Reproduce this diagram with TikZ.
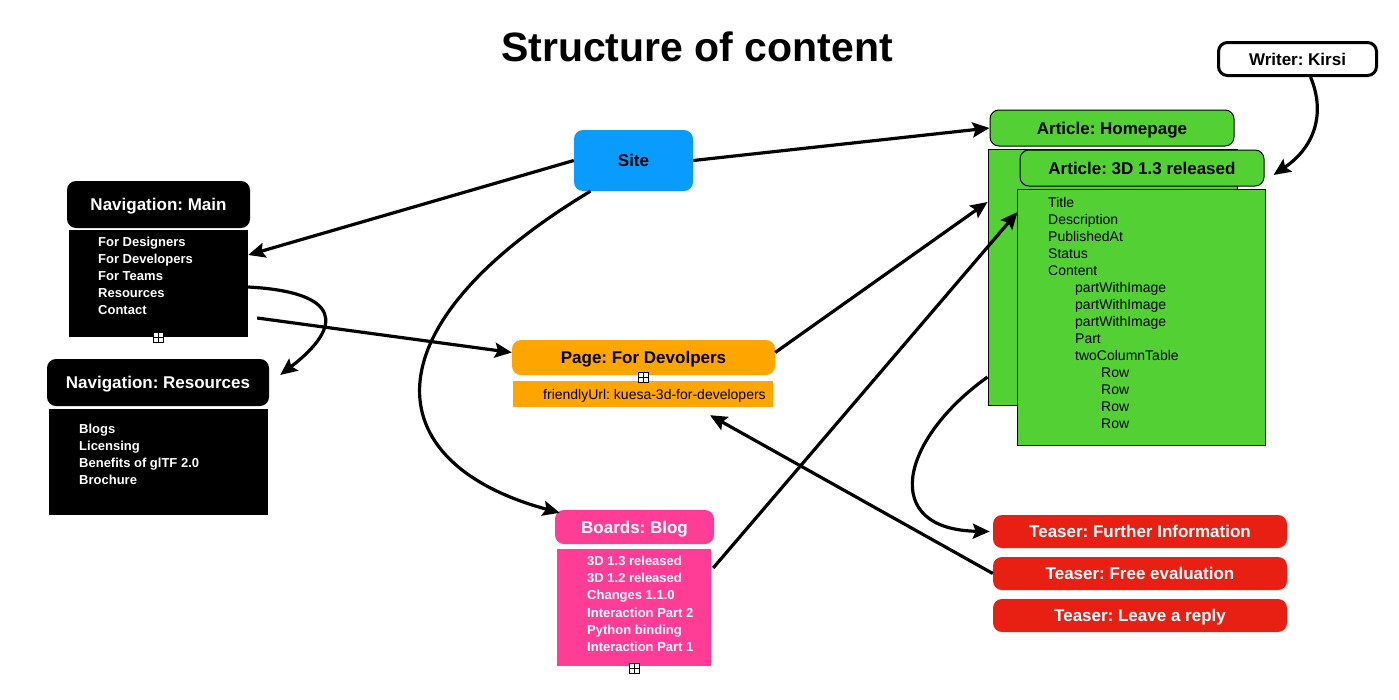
\documentclass[tikz,border=0pt]{standalone}
\usepackage{fontspec}
\setmainfont{Liberation Sans}
\usetikzlibrary{arrows.meta}
\definecolor{siteblue}{RGB}{10,155,255}
\definecolor{pageorange}{RGB}{255,165,0}
\definecolor{boardpink}{RGB}{255,60,150}
\definecolor{articlegreen}{RGB}{83,209,52}
\definecolor{teaserred}{RGB}{232,32,20}
\frenchspacing

\begin{document}
\begin{tikzpicture}[x = 1pt, y = -1pt,
    head/.style = {rounded corners = 9pt, inner sep = 0pt, text height = 12pt, text depth = 0pt,
        font = \bfseries\fontsize{17}{20}\selectfont},
    listbox/.style = {inner sep = 0pt},
    items/.style = {anchor = base west, align = left, inner sep = 0pt},
    whiteitems/.style = {items, text = white, font = \bfseries\fontsize{13}{17}\selectfont},
    darkitems/.style = {items, font = \fontsize{14}{17}\selectfont},
    plus/.style = {draw, fill = white, inner sep = 0pt, minimum size = 10pt, line width = 0.8pt,
        path picture = {\draw[line width = 0.8pt] (path picture bounding box.north) -- (path picture bounding box.south)
            (path picture bounding box.west) -- (path picture bounding box.east);}},
    conn/.style = {line width = 3.2pt, -{Stealth[length = 17pt, width = 15pt, inset = 3pt]}}]
    \useasboundingbox (0,0) rectangle (1399,699);

    \node[font = \bfseries\fontsize{41}{49}\selectfont] (title) at (697,47) {Structure of content};

    \node[head, fill = siteblue, minimum width = 119pt, minimum height = 61pt] (site) at (633.5,160.5) {Site};

    \node[head, fill = black, text = white, minimum width = 183pt, minimum height = 47pt] (navmain) at (158.5,204.5) {Navigation: Main};
    \node[listbox, fill = black, minimum width = 179pt, minimum height = 107pt] (mainlist) at (158.5,283.5) {};
    \node[whiteitems] (mainitems) at (98,314.5) {For Designers\\For Developers\\For Teams\\Resources\\Contact};
    \node[plus] (mainplus) at (158,337) {};

    \node[head, fill = black, text = white, minimum width = 222pt, minimum height = 47pt] (navres) at (158,382.5) {Navigation: Resources};
    \node[listbox, fill = black, minimum width = 219pt, minimum height = 106pt] (reslist) at (158.5,462) {};
    \node[whiteitems] (resitems) at (79,484.5) {Blogs\\Licensing\\Benefits of glTF 2.0\\Brochure};

    \node[head, fill = pageorange, minimum width = 263pt, minimum height = 35pt] (page) at (643.5,357.5) {Page: For Devolpers};
    \node[listbox, fill = pageorange, minimum width = 260pt, minimum height = 26pt] (pagelist) at (643,394) {};
    \node[darkitems] (pageitems) at (543,399.5) {friendlyUrl: kuesa-3d-for-developers};
    \node[plus] (pageplus) at (643,377) {};

    \node[head, fill = boardpink, text = white, minimum width = 159pt, minimum height = 34pt] (blog) at (634.5,527) {Boards: Blog};
    \node[listbox, fill = boardpink, minimum width = 154pt, minimum height = 117pt] (bloglist) at (634,607.5) {};
    \node[whiteitems, font = \bfseries\fontsize{13}{17.2}\selectfont] (blogitems) at (587,651.5)
        {3D 1.3 released\\3D 1.2 released\\Changes 1.1.0\\Interaction Part 2\\Python binding\\Interaction Part 1};
    \node[plus] (blogplus) at (634,668) {};

    \node[head, draw, line width = 1pt, fill = articlegreen, minimum width = 244pt, minimum height = 36pt] (homepage) at (1112,128) {Article: Homepage};
    \node[listbox, draw, line width = 1pt, fill = articlegreen, minimum width = 249pt, minimum height = 256pt] (homebody) at (1112.5,277) {};
    \node[head, draw, line width = 1pt, fill = articlegreen, minimum width = 244pt, minimum height = 36pt] (art3d) at (1142,168) {Article: 3D 1.3 released};
    \node[listbox, draw, line width = 1pt, fill = articlegreen, minimum width = 248pt, minimum height = 256pt] (artbody) at (1141,317) {};
    \node[darkitems] (artitems) at (1048,428) {Title\\Description\\PublishedAt\\Status\\Content\\
        \hspace*{27pt}partWithImage\\\hspace*{27pt}partWithImage\\\hspace*{27pt}partWithImage\\
        \hspace*{27pt}Part\\\hspace*{27pt}twoColumnTable\\
        \hspace*{53pt}Row\\\hspace*{53pt}Row\\\hspace*{53pt}Row\\\hspace*{53pt}Row};

    \node[head, draw, line width = 3pt, fill = white, minimum width = 158pt, minimum height = 33pt] (writer) at (1297.5,59) {Writer: Kirsi};

    \node[head, fill = teaserred, text = white, minimum width = 294pt, minimum height = 33pt] (further) at (1140,531.5) {Teaser: Further Information};
    \node[head, fill = teaserred, text = white, minimum width = 294pt, minimum height = 33pt] (free) at (1140,573.5) {Teaser: Free evaluation};
    \node[head, fill = teaserred, text = white, minimum width = 294pt, minimum height = 33pt] (reply) at (1140,615.5) {Teaser: Leave a reply};

    \draw[conn] (site.west) -- ([shift={(0,-28.5)}]mainlist.east);
    \draw[conn] (site.east) -- (homepage.west);
    \draw[conn] ([shift={(-43,0)}]site.south) .. controls +(-225,135) and +(-185,-50) .. ([shift={(5,3)}]blog.north west);
    \draw[conn] ([shift={(0,3.5)}]mainlist.east) .. controls +(92,5) and +(65,-50) .. ([shift={(11,-7.5)}]navres.east);
    \draw[conn] ([shift={(9,34.5)}]mainlist.east) -- ([shift={(0,-5)}]page.west);
    \draw[conn] ([shift={(0,-5)}]page.east) -- ([shift={(0,-75)}]homebody.west);
    \draw[conn] ([shift={(2,-39.5)}]bloglist.east) -- ([shift={(1,-105)}]artbody.west);
    \draw[conn] (free.west) -- ([shift={(67,8)}]pagelist.south);
    \draw[conn] ([shift={(13,0)}]writer.south) .. controls +(14,33) and +(44,-30) .. ([shift={(9,7)}]art3d.east);
    \draw[conn] ([shift={(0,100)}]homebody.west) .. controls +(-88,63) and +(-110,-2) .. ([shift={(-3,0)}]further.west);
\end{tikzpicture}
\end{document}
